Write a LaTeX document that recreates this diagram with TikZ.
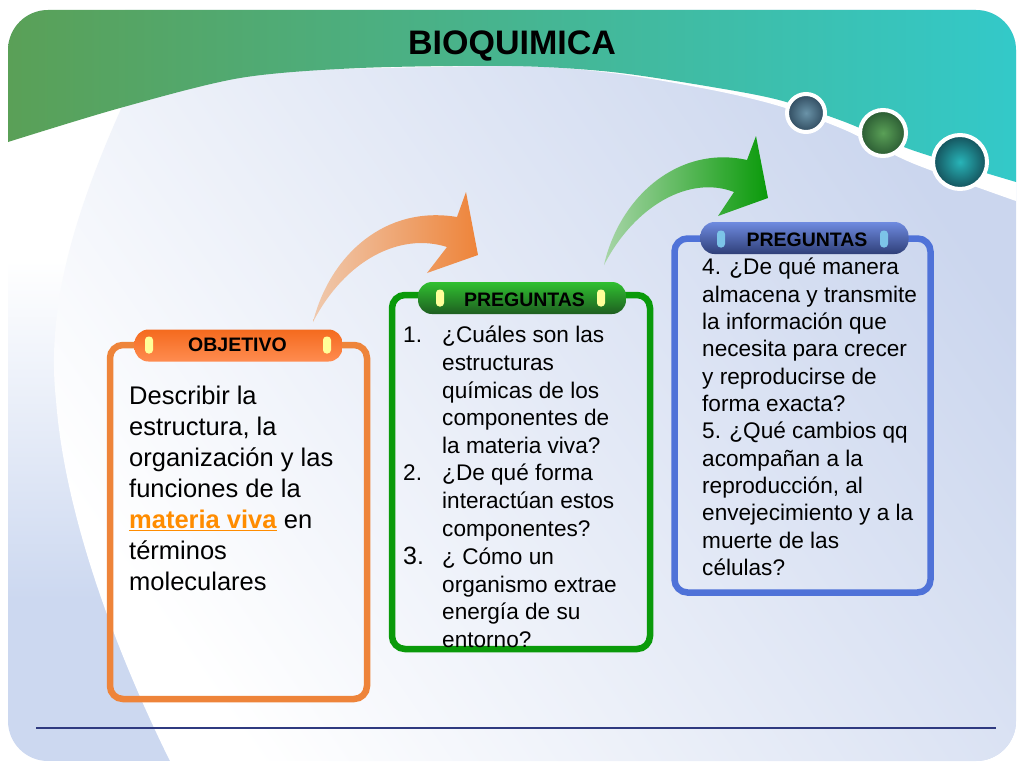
\documentclass[tikz,border=0pt]{standalone}
\usepackage{fontspec}
\setmainfont{Liberation Sans}
\definecolor{wedgeblue}{HTML}{CCD8F0}
\definecolor{paleblue}{HTML}{CBD6EE}
\definecolor{orangeline}{HTML}{EE843A}
\definecolor{orangetail}{HTML}{EFC9AE}
\definecolor{greenline}{HTML}{0A9A0A}
\definecolor{greentail}{HTML}{A8D5A8}
\definecolor{blueline}{HTML}{4F72D8}
\definecolor{bandleft}{HTML}{5AA057}
\definecolor{bandright}{HTML}{33C9C9}
\definecolor{rulecolor}{HTML}{2F3A80}
\definecolor{tabyellow}{HTML}{FFFF99}
\definecolor{tabblue}{HTML}{7CC4E8}
\tikzset{
	framebox/.style={rectangle, rounded corners=13pt, line width=6.5pt},
	pillbox/.style={rectangle, rounded corners=14pt, minimum width=208pt, minimum height=32pt, inner sep=0pt},
	pilltext/.style={inner sep=0pt, font=\fontsize{19.5}{22}\selectfont\bfseries},
	tabmark/.style={rectangle, rounded corners=3.5pt, minimum width=8pt, minimum height=17pt, inner sep=0pt},
	disc/.style={circle, draw=white, line width=4pt, inner sep=0pt},
	bodytext/.style={anchor=north west, align=left, inner sep=0pt, font=\fontsize{22.6}{27.35}\selectfont}
}
\begin{document}
\begin{tikzpicture}[x=1pt,y=-1pt]
			\useasboundingbox (0,0) rectangle (1024,768);

			\begin{scope}
				\clip[rounded corners=40pt] (8,10) rectangle (1016,761);
				\fill[wedgeblue] (8,10) rectangle (1016,761);
				\shade[top color=white, bottom color=wedgeblue] (8,260) rectangle (200,600);
				\fill[white] (8,10) rectangle (200,261);
				\shade[top color=paleblue, bottom color=white, shading angle=-55]
					(125,10) -- (125,100) .. controls (80,200) and (45,300) .. (56,400)
					.. controls (65,520) and (120,660) .. (170,761)
					-- (1016,761) -- (1016,10) -- cycle;
				\fill[white] plot[smooth] coordinates {(300,70) (512,66) (612,73) (712,90) (779,106) (845,130) (912,163) (1016,201)}
					-- (1016,10) -- (300,10) -- cycle;
				\shade[left color=bandleft, right color=bandright]
					(8,10) -- (1016,10) -- (1016,182)
					-- plot[smooth] coordinates {(1016,182) (912,150) (845,122) (779,100) (712,87) (612,72) (512,66) (360,68) (240,78) (120,108) (8,142)}
					-- cycle;
			\end{scope}

			\foreach \n/\x/\y/\s/\ci/\co in {a/806/113/38/6A93A8/2F4A5E, b/883/133/46/5AA057/2A5A32, c/960/162/54/28B4B8/14505A} {
				\definecolor{discin}{HTML}{\ci}
				\definecolor{discout}{HTML}{\co}
				\node[disc, minimum size=\s pt, inner color=discin, outer color=discout] (disc_\n) at (\x,\y) {};
			}

			\node[font=\fontsize{34}{38}\selectfont\bfseries] (title) at (512,46) {BIOQUIMICA};

			\shade[left color=orangetail, right color=orangeline]
				(313,322) .. controls (330,255) and (385,205) .. (457,217)
				-- (466,192) -- (478,255) -- (427,273) -- (447,247)
				.. controls (400,232) and (345,260) .. (313,322) -- cycle;
			\shade[left color=greentail, right color=greenline]
				(604,265) .. controls (620,195) and (680,145) .. (747,160)
				-- (756,136) -- (768,198) -- (718,216) -- (734,192)
				.. controls (690,175) and (635,205) .. (604,265) -- cycle;

			\node[framebox, draw=orangeline, minimum width=257pt, minimum height=354pt] (box_obj) at (238.5,522) {};
			\node[framebox, draw=greenline, minimum width=258pt, minimum height=354pt] (box_one) at (521,472) {};
			\node[framebox, draw=blueline, minimum width=256pt, minimum height=354pt] (box_two) at (802.5,415.5) {};

			\node[pillbox, top color={rgb,255:red,244;green,106;blue,30}, bottom color={rgb,255:red,255;green,140;blue,80}] (pill_obj) at (238.5,345.5) {};
			\node[pillbox, top color={rgb,255:red,48;green,192;blue,48}, bottom color={rgb,255:red,30;green,94;blue,32}] (pill_one) at (522,298) {};
			\node[pillbox, top color={rgb,255:red,111;green,139;blue,224}, bottom color={rgb,255:red,47;green,63;blue,120}] (pill_two) at (804.5,238) {};

			\node[pilltext] (label_obj) at (237.5,344.5) {OBJETIVO};
			\node[pilltext] (label_one) at (524.5,300) {PREGUNTAS};
			\node[pilltext] (label_two) at (807,240) {PREGUNTAS};

			\foreach \n/\x/\y in {a/149/345, b/327/345, c/440/298, d/601/298} {
				\node[tabmark, fill=tabyellow] (tab_\n) at (\x,\y) {};
			}
			\foreach \n/\x/\y in {e/721/239, f/884/239} {
				\node[tabmark, fill=tabblue] (tab_\n) at (\x,\y) {};
			}

			\node[bodytext, font=\fontsize{25.5}{31}\selectfont] (text_obj) at (129,386) {Describir la\\estructura, la\\organización y las\\funciones de la\\\textcolor{orange!90!yellow}{\underline{\textbf{materia viva}}} en\\términos\\moleculares};

			\node[bodytext, font=\fontsize{22.6}{27.6}\selectfont] (text_one) at (403,326) {\makebox[39pt][l]{1.}¿Cuáles son las\\\hspace*{39pt}estructuras\\\hspace*{39pt}químicas de los\\\hspace*{39pt}componentes de\\\hspace*{39pt}la materia viva?\\\makebox[39pt][l]{2.}¿De qué forma\\\hspace*{39pt}interactúan estos\\\hspace*{39pt}componentes?\\[1pt]\makebox[39pt][l]{\fontsize{25}{27}\selectfont 3.}¿ Cómo un\\\hspace*{39pt}organismo extrae\\\hspace*{39pt}energía de su\\\hspace*{39pt}entorno?};

			\node[bodytext] (text_two) at (702,258) {4. ¿De qué manera\\almacena y transmite\\la información que\\necesita para crecer\\y reproducirse de\\forma exacta?\\5. ¿Qué cambios qq\\acompañan a la\\reproducción, al\\envejecimiento y a la\\muerte de las\\células?};

			\coordinate (rule_l) at (36,728);
			\coordinate (rule_r) at (996,728);
			\draw[line width=1.2pt, color=rulecolor] (rule_l) -- (rule_r);
\end{tikzpicture}
\end{document}
